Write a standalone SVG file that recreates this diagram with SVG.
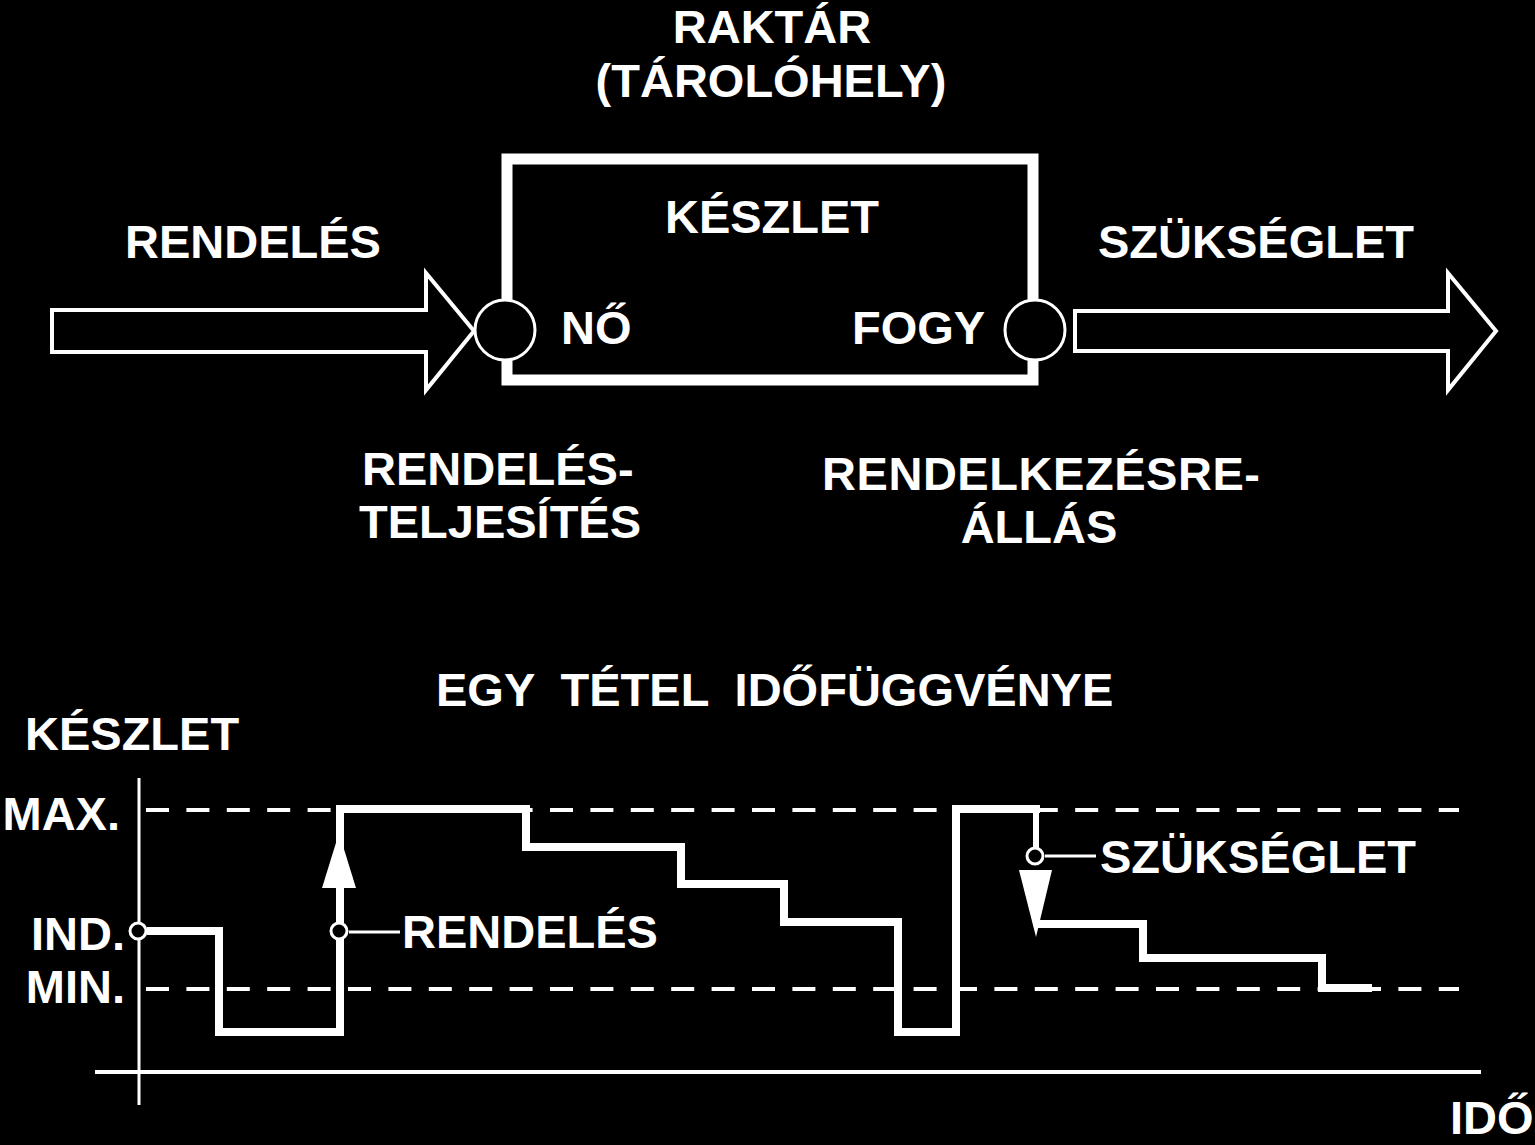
<svg xmlns="http://www.w3.org/2000/svg" width="1535" height="1145" viewBox="0 0 1535 1145">
<style>
text{font-family:"Liberation Sans",Arial,sans-serif;font-weight:bold;font-size:47px;fill:#fff}
.c{text-anchor:middle}
.e{text-anchor:end}
.out{fill:#000;stroke:#fff;stroke-width:4;stroke-linejoin:miter}
.ring{fill:#000;stroke:#fff;stroke-width:3}
.step{fill:none;stroke:#fff;stroke-width:8;stroke-linejoin:miter;stroke-linecap:butt}
.dash{stroke:#fff;stroke-width:4;stroke-dasharray:23 17.4}
.thin{stroke:#fff;stroke-width:3}
</style>
<rect width="1535" height="1145" fill="#000"/>
<g id="title">
<text class="c" x="772" y="43">RAKTÁR</text>
<text class="c" x="771" y="97">(TÁROLÓHELY)</text>
</g>
<g id="connectors">
<polygon id="arrow-in" class="out" points="52,310 426,310 426,273 474,331 426,390 426,352 52,352"/>
<polygon id="arrow-out" class="out" points="1075,311 1448,311 1448,273 1496,331 1448,390 1448,351 1075,351"/>
</g>
<g id="store">
<rect x="507" y="159" width="526" height="221" fill="none" stroke="#fff" stroke-width="11"/>
<text class="c" x="772" y="233">KÉSZLET</text>
<text x="561" y="344">NŐ</text>
<text x="852" y="344">FOGY</text>
</g>
<g id="port-in"><circle class="ring" cx="505" cy="330" r="30"/></g>
<g id="port-out"><circle class="ring" cx="1035" cy="330" r="30"/></g>
<g id="labels-top">
<text class="c" x="253" y="258">RENDELÉS</text>
<text class="c" x="1256" y="258">SZÜKSÉGLET</text>
<text x="362" y="485">RENDELÉS-</text>
<text x="359" y="538">TELJESÍTÉS</text>
<text x="822" y="490" textLength="438">RENDELKEZÉSRE-</text>
<text class="c" x="1039" y="543">ÁLLÁS</text>
</g>
<g id="chart">
<text x="436" y="706" xml:space="preserve">EGY  TÉTEL  IDŐFÜGGVÉNYE</text>
<text x="25" y="750">KÉSZLET</text>
<text class="e" x="120" y="830">MAX.</text>
<text class="e" x="125" y="950">IND.</text>
<text class="e" x="125" y="1003">MIN.</text>
<text x="1450" y="1134" font-size="46">IDŐ</text>
<line class="thin" x1="139" y1="778" x2="139" y2="1105"/>
<line x1="95" y1="1072" x2="1481" y2="1072" stroke="#fff" stroke-width="4"/>
<line class="dash" x1="146" y1="810" x2="1459" y2="810"/>
<line class="dash" x1="146" y1="989" x2="1459" y2="989"/>
<path class="step" d="M147 931 H219 V1032 H340 V809 H526 V847 H681 V884 H784 V922 H898 V1032 H956 V809 H1040"/>
<path class="step" d="M1036 924 H1143 V958 H1322 V988 H1372"/>
<line x1="1036" y1="809" x2="1036" y2="848" stroke="#fff" stroke-width="6"/>
<polygon points="322,888 356,888 339,833" fill="#fff"/>
<polygon points="1019,870 1052,870 1036,937" fill="#fff"/>
<circle class="ring" cx="138" cy="931" r="8"/>
<circle class="ring" cx="339" cy="931" r="8"/>
<circle class="ring" cx="1035" cy="856" r="8"/>
<line class="thin" x1="349" y1="932" x2="400" y2="932"/>
<line class="thin" x1="1045" y1="856" x2="1096" y2="856"/>
<text x="402" y="948">RENDELÉS</text>
<text x="1100" y="873">SZÜKSÉGLET</text>
</g>
</svg>
